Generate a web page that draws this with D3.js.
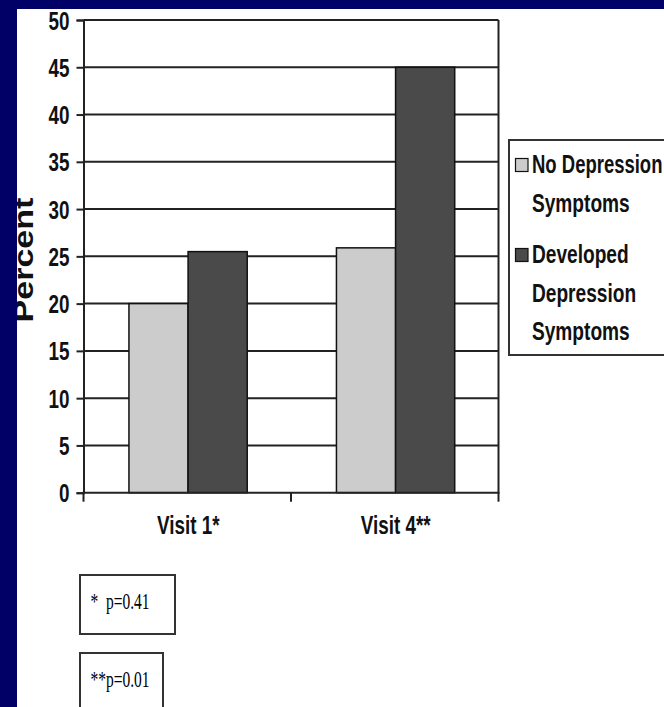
<!DOCTYPE html>
<html>
<head>
<meta charset="utf-8">
<script src="https://cdn.jsdelivr.net/npm/d3@7"></script>
<style>
  html, body { margin: 0; padding: 0; background: #000066; }
  svg { display: block; }
</style>
</head>
<body>
<svg id="chart" width="664" height="707"></svg>
<script>
// ---- data ----
const categories = ["Visit 1*", "Visit 4**"];
const seriesNames = ["No Depression Symptoms", "Developed Depression Symptoms"];
const noDepression = [20, 25.9];
const developedDepression = [25.5, 45];
const yTicks = [0, 5, 10, 15, 20, 25, 30, 35, 40, 45, 50];
const legendLines = [["No Depression", "Symptoms"], ["Developed", "Depression", "Symptoms"]];
const pNotes = ["*  p=0.41", "**p=0.01"];
const yLabel = "Percent";

(function () {
const seriesValues = [noDepression, developedDepression];
const colors = ["#cccccc", "#4a4a4a"];

const svg = d3.select("#chart");
const W = 664, H = 707;

svg.append("rect").attr("x", 0).attr("y", 0).attr("width", W).attr("height", H).attr("fill", "#000066");
svg.append("rect").attr("x", 17).attr("y", 9).attr("width", W - 17).attr("height", H - 9).attr("fill", "#ffffff");

const pL = 83.5, pR = 498.5, pT = 20, pB = 492.7;
const y = d3.scaleLinear().domain([0, 50]).range([pB, pT]);
const x0 = d3.scaleBand().domain(categories).range([pL, pR]).padding(0);
const bw = x0.bandwidth();
const x1 = d3.scaleBand().domain(seriesNames).range([bw * 0.219, bw * 0.789]).padding(0);

const boldFont = "'Liberation Sans', Arial, sans-serif";
const serifFont = "'Liberation Serif', 'Times New Roman', serif";
const SX = 0.74;

// gridlines
svg.append("g").selectAll("line").data(yTicks.filter(d => d > 0)).join("line")
  .attr("x1", pL).attr("x2", pR)
  .attr("y1", d => y(d)).attr("y2", d => y(d))
  .attr("stroke", "#222").attr("stroke-width", 2);

// right border
svg.append("line").attr("x1", pR).attr("x2", pR).attr("y1", pT).attr("y2", pB)
  .attr("stroke", "#222").attr("stroke-width", 2);

// bars
const rows = categories.map((c, i) => ({ cat: c, vals: seriesNames.map((s, j) => ({ s, v: seriesValues[j][i], j })) }));
const groups = svg.append("g").selectAll("g").data(rows).join("g")
  .attr("transform", d => `translate(${x0(d.cat)},0)`);
groups.selectAll("rect").data(d => d.vals).join("rect")
  .attr("x", d => x1(d.s))
  .attr("width", x1.bandwidth())
  .attr("y", d => y(d.v))
  .attr("height", d => y(0) - y(d.v))
  .attr("fill", d => colors[d.j])
  .attr("stroke", "#111").attr("stroke-width", 1.5);

// y axis
const yAxis = svg.append("g").attr("transform", `translate(${pL},0)`)
  .call(d3.axisLeft(y).tickValues(yTicks).tickSize(7).tickPadding(0));
yAxis.select(".domain").attr("stroke", "#222").attr("stroke-width", 2);
yAxis.selectAll(".tick line").attr("stroke", "#222").attr("stroke-width", 2);
yAxis.selectAll(".tick text")
  .attr("x", null).attr("dy", null)
  .attr("transform", `translate(-14,9) scale(${SX},1)`)
  .attr("text-anchor", "end")
  .style("font-family", boldFont).style("font-weight", "bold").style("font-size", "25.5px")
  .attr("fill", "#111");

// x axis
svg.append("line").attr("x1", pL - 1).attr("x2", pR + 1).attr("y1", pB).attr("y2", pB)
  .attr("stroke", "#222").attr("stroke-width", 2);
const boundaries = categories.map(c => x0(c)).concat([x0(categories[categories.length - 1]) + bw]);
svg.append("g").selectAll("line").data(boundaries).join("line")
  .attr("x1", d => d).attr("x2", d => d).attr("y1", pB).attr("y2", pB + 9)
  .attr("stroke", "#222").attr("stroke-width", 2);
svg.append("g").selectAll("text").data(categories).join("text")
  .attr("transform", d => `translate(${x0(d) + bw / 2 + 1},533.5) scale(${SX},1)`)
  .attr("text-anchor", "middle")
  .style("font-family", boldFont).style("font-weight", "bold").style("font-size", "25.5px")
  .attr("fill", "#111")
  .text(d => d);

// y label
svg.append("text")
  .attr("transform", "translate(32.5,260) rotate(-90) scale(1.26,1)")
  .attr("text-anchor", "middle")
  .style("font-family", boldFont).style("font-weight", "bold").style("font-size", "27px")
  .attr("fill", "#111")
  .text(yLabel);

// legend
const lg = svg.append("g");
lg.append("rect").attr("x", 509).attr("y", 140).attr("width", 180).attr("height", 215)
  .attr("fill", "#fff").attr("stroke", "#333").attr("stroke-width", 2);
const legendBase = [173, 263];
const lineGap = 38.5;
const legendX = 532;
legendLines.forEach((lines, j) => {
  lg.append("rect").attr("x", 515.5).attr("y", legendBase[j] - 14.5).attr("width", 12.5).attr("height", 13)
    .attr("fill", colors[j]).attr("stroke", "#111").attr("stroke-width", 1.2);
  lines.forEach((t, k) => {
    const tx = lg.append("text")
      .style("font-family", boldFont).style("font-weight", "bold").style("font-size", "25.5px")
      .attr("fill", "#111")
      .text(t);
    const len = tx.node().getComputedTextLength();
    const s = Math.min(0.75, (W - 1.5 - legendX) / len);
    tx.attr("transform", `translate(${legendX},${legendBase[j] + k * lineGap}) scale(${s},1)`);
  });
});

// p-value notes
const noteBoxes = [{ x: 80, y: 575, w: 95 }, { x: 80, y: 653, w: 83 }];
pNotes.forEach((t, i) => {
  const b = noteBoxes[i];
  svg.append("rect").attr("x", b.x).attr("y", b.y).attr("width", b.w).attr("height", 59)
    .attr("fill", "#fff").attr("stroke", "#333").attr("stroke-width", 2);
  svg.append("text")
    .attr("transform", `translate(${b.x + 10.5},${b.y + 33.5}) scale(0.66,1)`)
    .style("font-family", serifFont).style("font-size", "23.5px")
    .attr("fill", "#000")
    .style("white-space", "pre")
    .text(t);
});

// navy frame on top (clips label)
svg.append("rect").attr("x", 0).attr("y", 0).attr("width", 17).attr("height", H).attr("fill", "#000066");
svg.append("rect").attr("x", 0).attr("y", 0).attr("width", W).attr("height", 9).attr("fill", "#000066");
})();
</script>
</body>
</html>
